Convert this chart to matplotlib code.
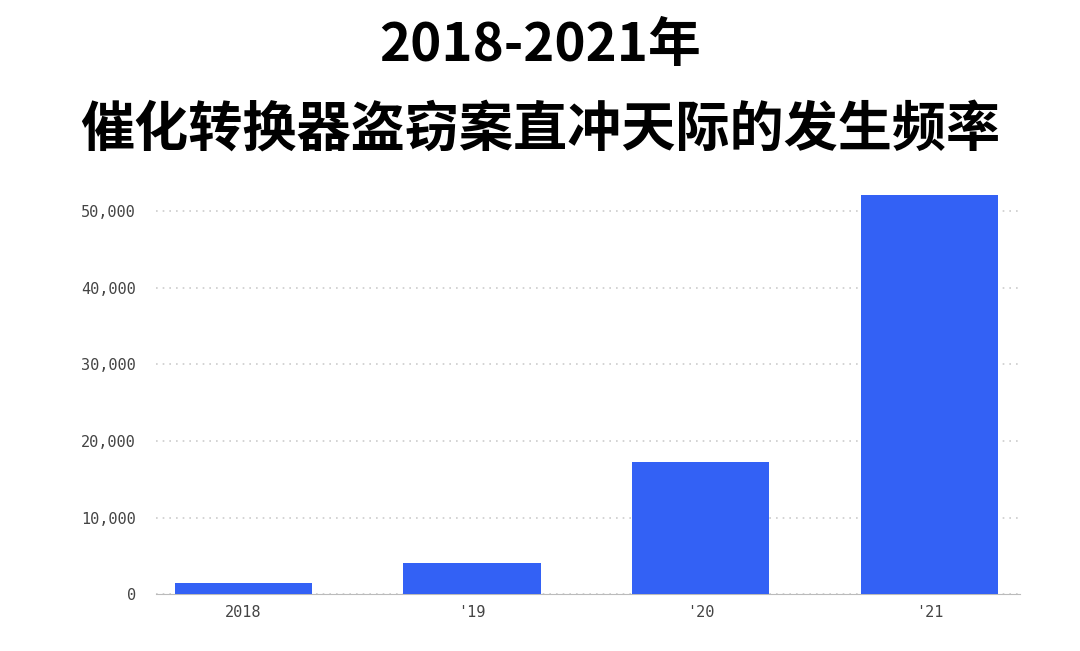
import matplotlib.pyplot as plt

plt.rcParams['font.family'] = ['Noto Sans CJK SC', 'DejaVu Sans']

years = ['2018', "'19", "'20", "'21"]
thefts = [1440, 4060, 17280, 52100]
yticks = [0, 10000, 20000, 30000, 40000, 50000]

fig = plt.figure(figsize=(10.8, 6.51), dpi=100)
ax = fig.add_axes([0.144, 0.087, 0.8, 0.63])

ax.bar(range(len(years)), thefts, width=0.6, color='#3361f5', zorder=3)
ax.set_xlim(-0.384, 3.393)
ax.set_ylim(0, 53500)
ax.set_yticks(yticks)
ax.set_yticklabels([f'{v:,}' for v in yticks], family='DejaVu Sans Mono', fontsize=11, color='#444444')
ax.set_xticks(range(len(years)))
ax.set_xticklabels(years, family='DejaVu Sans Mono', fontsize=11, color='#444444')
ax.yaxis.grid(True, linestyle=(0, (1, 3)), color='#cccccc', linewidth=1.2, zorder=0)
for s in ['top', 'right', 'left']:
    ax.spines[s].set_visible(False)
ax.spines['bottom'].set_color('#bbbbbb')
ax.tick_params(axis='y', length=0, pad=14)
ax.tick_params(axis='x', length=0, pad=8)

fig.text(0.5, 0.93, '2018-2021年', ha='center', va='center', fontsize=38,
         fontweight='black', style='italic')
fig.text(0.5, 0.80, '催化转换器盗窃案直冲天际的发生频率', ha='center', va='center',
         fontsize=39, fontweight='black', style='italic')

fig.savefig('out.png')
